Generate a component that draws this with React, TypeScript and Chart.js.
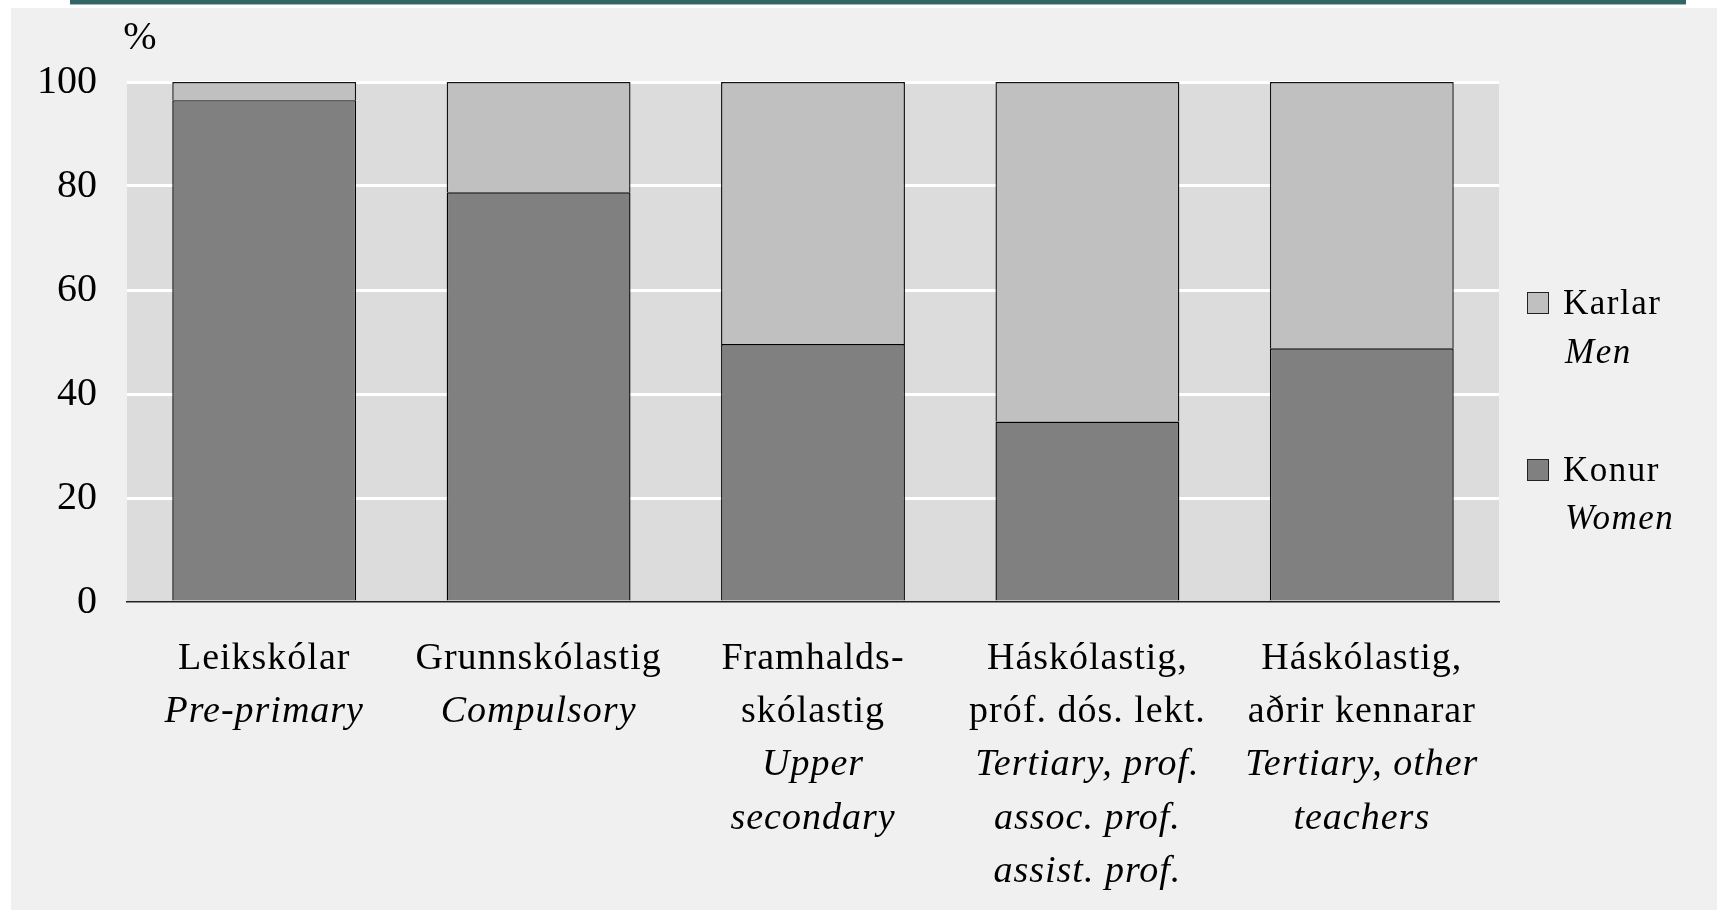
import React, { useEffect, useRef } from "react";
import { Chart, registerables } from "chart.js";

Chart.register(...registerables);

const categoryLines: { text: string; italic: boolean }[][] = [
  [
    { text: "Leikskólar", italic: false },
    { text: "Pre-primary", italic: true },
  ],
  [
    { text: "Grunnskólastig", italic: false },
    { text: "Compulsory", italic: true },
  ],
  [
    { text: "Framhalds-", italic: false },
    { text: "skólastig", italic: false },
    { text: "Upper", italic: true },
    { text: "secondary", italic: true },
  ],
  [
    { text: "Háskólastig,", italic: false },
    { text: "próf. dós. lekt.", italic: false },
    { text: "Tertiary, prof.", italic: true },
    { text: "assoc. prof.", italic: true },
    { text: "assist. prof.", italic: true },
  ],
  [
    { text: "Háskólastig,", italic: false },
    { text: "aðrir kennarar", italic: false },
    { text: "Tertiary, other", italic: true },
    { text: "teachers", italic: true },
  ],
];

const categories = ["Leikskólar", "Grunnskólastig", "Framhaldsskólastig", "Háskólastig prof", "Háskólastig other"];
const women = [96.5, 78.8, 49.6, 34.7, 48.8];
const men = [3.5, 21.2, 50.4, 65.3, 51.2];

const legendItems = [
  { main: "Karlar", sub: "Men", color: "#c0c0c0" },
  { main: "Konur", sub: "Women", color: "#808080" },
];

const yTicks = [0, 20, 40, 60, 80, 100];
const unitLabel = "%";

const FONT = "'Liberation Serif', 'Times New Roman', serif";

export default function App() {
  const ref = useRef<HTMLCanvasElement | null>(null);

  useEffect(() => {
    document.body.style.margin = "0";
    document.body.style.overflow = "hidden";
    const canvas = ref.current;
    if (!canvas) return;

    const bgPlugin = {
      id: "plotBg",
      beforeDraw(chart: any) {
        const { ctx, chartArea } = chart;
        ctx.save();
        ctx.fillStyle = "#dcdcdc";
        ctx.fillRect(chartArea.left, chartArea.top, chartArea.right - chartArea.left, chartArea.bottom - chartArea.top);
        ctx.restore();
      },
    };

    const textPlugin = {
      id: "customText",
      afterDraw(chart: any) {
        const { ctx } = chart;
        const xScale = chart.scales.x;
        ctx.save();
        ctx.fillStyle = "#000";
        ctx.textAlign = "center";
        ctx.textBaseline = "middle";
        (ctx as any).letterSpacing = "1px";
        categoryLines.forEach((lines, i) => {
          const cx = xScale.getPixelForValue(i);
          lines.forEach((ln, j) => {
            ctx.font = `${ln.italic ? "italic " : ""}38px ${FONT}`;
            ctx.fillText(ln.text, cx, 659 + j * 53.2);
          });
        });
        // unit label
        ctx.font = `40px ${FONT}`;
        (ctx as any).letterSpacing = "0px";
        ctx.fillText(unitLabel, 140, 38);
        // legend
        const ys = [
          [305, 354],
          [472, 520],
        ];
        legendItems.forEach((it, i) => {
          const [y1, y2] = ys[i];
          ctx.fillStyle = it.color;
          ctx.fillRect(1527, y1 - 13, 22, 22);
          ctx.strokeStyle = "#222";
          ctx.lineWidth = 1;
          ctx.strokeRect(1527.5, y1 - 12.5, 21, 21);
          ctx.fillStyle = "#000";
          ctx.textAlign = "left";
          (ctx as any).letterSpacing = "1.5px";
          ctx.font = `35px ${FONT}`;
          ctx.fillText(it.main, 1563, y1);
          ctx.font = `italic 35px ${FONT}`;
          ctx.fillText(it.sub, 1565, y2);
        });
        ctx.restore();
      },
    };

    const chart = new Chart(canvas, {
      type: "bar",
      data: {
        labels: categories,
        datasets: [
          {
            label: "Konur",
            data: women,
            backgroundColor: "#808080",
            borderColor: "#000000",
            borderWidth: 1.4,
            barPercentage: 0.67,
            categoryPercentage: 1,
          },
          {
            label: "Karlar",
            data: men,
            backgroundColor: "#c0c0c0",
            borderColor: "#111111",
            borderWidth: 1.4,
            borderSkipped: "bottom",
            barPercentage: 0.67,
            categoryPercentage: 1,
          },
        ],
      },
      options: {
        animation: false,
        responsive: false,
        devicePixelRatio: 1,
        layout: { padding: { left: 0, top: 82, right: 218, bottom: 0 } },
        plugins: {
          legend: { display: false },
          tooltip: { enabled: false },
        },
        scales: {
          x: {
            stacked: true,
            grid: { display: false },
            border: { display: true, color: "#222", width: 1.5 },
            ticks: { display: false },
            afterFit(scale: any) {
              scale.height = 308;
            },
          },
          y: {
            stacked: true,
            min: 0,
            max: 100,
            afterBuildTicks(scale: any) {
              scale.ticks = yTicks.map((v) => ({ value: v }));
            },
            grid: {
              color: (c: any) => (c.tick && c.tick.value === 0 ? "rgba(0,0,0,0)" : "#ffffff"),
              lineWidth: 3,
              drawTicks: false,
            },
            border: { display: false },
            ticks: {
              padding: 30,
              color: "#000",
              font: { family: FONT, size: 40 },
            },
            afterFit(scale: any) {
              scale.width = 127;
            },
          },
        },
      },
      plugins: [bgPlugin, textPlugin],
    });

    return () => chart.destroy();
  }, []);

  return (
    <div style={{ position: "relative", width: 1717, height: 910, background: "#ffffff", overflow: "hidden" }}>
      <div style={{ position: "absolute", left: 11, top: 8, right: 0, bottom: 0, background: "#f0f0f0" }} />
      <div
        style={{
          position: "absolute",
          left: 70,
          top: 0,
          width: 1616,
          height: 4,
          background: "#346565",
          borderBottom: "1px solid #9fb8b8",
        }}
      />
      <canvas ref={ref} width={1717} height={910} style={{ position: "absolute", left: 0, top: 0 }} />
    </div>
  );
}
